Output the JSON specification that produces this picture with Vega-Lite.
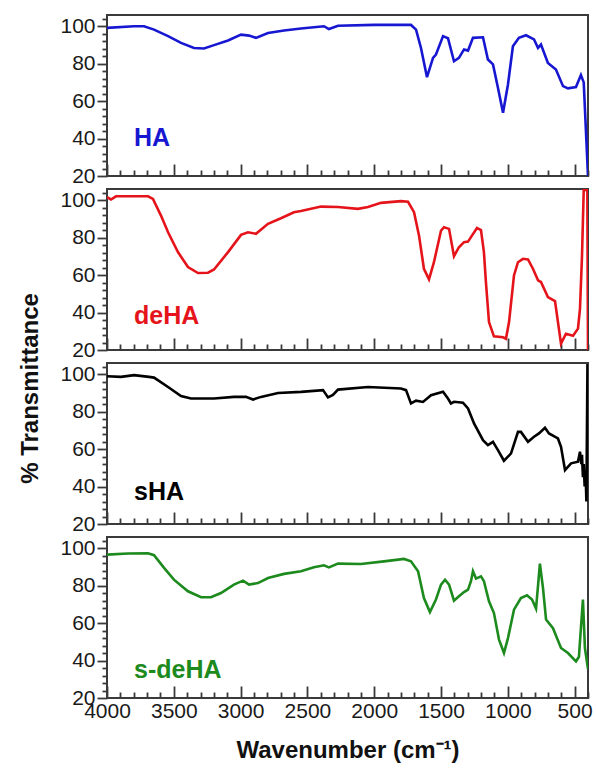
{
  "$schema": "https://vega.github.io/schema/vega-lite/v6.json",
  "padding": {"left": 18, "top": 14, "right": 7, "bottom": 4},
  "datasets": {
    "spectra": [
      {"s":"HA","w":4000,"t":99.1},{"s":"HA","w":3798,"t":100},{"s":"HA","w":3723,"t":100},{"s":"HA","w":3648,"t":98.2},{"s":"HA","w":3543,"t":94.7},{"s":"HA","w":3446,"t":91.1},{"s":"HA","w":3349,"t":88.4},{"s":"HA","w":3274,"t":88.1},{"s":"HA","w":3199,"t":89.9},{"s":"HA","w":3094,"t":92.4},{"s":"HA","w":2997,"t":95.5},{"s":"HA","w":2937,"t":95},{"s":"HA","w":2885,"t":93.8},{"s":"HA","w":2795,"t":96.4},{"s":"HA","w":2675,"t":97.7},{"s":"HA","w":2548,"t":98.8},{"s":"HA","w":2376,"t":100},{"s":"HA","w":2339,"t":98.5},{"s":"HA","w":2271,"t":100.3},{"s":"HA","w":2002,"t":100.7},{"s":"HA","w":1725,"t":100.7},{"s":"HA","w":1687,"t":98.2},{"s":"HA","w":1650,"t":88.4},{"s":"HA","w":1605,"t":72.8},{"s":"HA","w":1560,"t":83.1},{"s":"HA","w":1538,"t":84.9},{"s":"HA","w":1485,"t":94.7},{"s":"HA","w":1448,"t":93.6},{"s":"HA","w":1403,"t":81.3},{"s":"HA","w":1366,"t":83.1},{"s":"HA","w":1328,"t":87.6},{"s":"HA","w":1298,"t":87},{"s":"HA","w":1261,"t":93.8},{"s":"HA","w":1186,"t":94.1},{"s":"HA","w":1149,"t":82.2},{"s":"HA","w":1111,"t":79.6},{"s":"HA","w":1074,"t":67.1},{"s":"HA","w":1036,"t":53.8},{"s":"HA","w":999,"t":68.9},{"s":"HA","w":962,"t":89.3},{"s":"HA","w":917,"t":93.8},{"s":"HA","w":864,"t":95.2},{"s":"HA","w":804,"t":93},{"s":"HA","w":774,"t":88.4},{"s":"HA","w":752,"t":90.2},{"s":"HA","w":700,"t":80.4},{"s":"HA","w":640,"t":76.9},{"s":"HA","w":587,"t":68},{"s":"HA","w":550,"t":66.8},{"s":"HA","w":490,"t":67.5},{"s":"HA","w":453,"t":73.9},{"s":"HA","w":432,"t":70},{"s":"HA","w":400,"t":20},
      {"s":"deHA","w":4000,"t":101.6},{"s":"deHA","w":3970,"t":100.4},{"s":"deHA","w":3933,"t":102.1},{"s":"deHA","w":3693,"t":102.1},{"s":"deHA","w":3656,"t":100.7},{"s":"deHA","w":3596,"t":91.8},{"s":"deHA","w":3543,"t":82.9},{"s":"deHA","w":3469,"t":72.3},{"s":"deHA","w":3394,"t":64.3},{"s":"deHA","w":3319,"t":61.1},{"s":"deHA","w":3244,"t":61.3},{"s":"deHA","w":3199,"t":63},{"s":"deHA","w":3094,"t":72.3},{"s":"deHA","w":2997,"t":81.5},{"s":"deHA","w":2945,"t":82.9},{"s":"deHA","w":2885,"t":82.1},{"s":"deHA","w":2795,"t":87.4},{"s":"deHA","w":2698,"t":90.4},{"s":"deHA","w":2601,"t":93.6},{"s":"deHA","w":2548,"t":94.2},{"s":"deHA","w":2398,"t":96.6},{"s":"deHA","w":2271,"t":96.4},{"s":"deHA","w":2122,"t":95.4},{"s":"deHA","w":2047,"t":96.4},{"s":"deHA","w":1949,"t":98.6},{"s":"deHA","w":1800,"t":99.5},{"s":"deHA","w":1747,"t":99.2},{"s":"deHA","w":1702,"t":93.6},{"s":"deHA","w":1665,"t":81.2},{"s":"deHA","w":1628,"t":63.4},{"s":"deHA","w":1590,"t":57.7},{"s":"deHA","w":1553,"t":66.9},{"s":"deHA","w":1500,"t":83.8},{"s":"deHA","w":1478,"t":85.6},{"s":"deHA","w":1440,"t":84.7},{"s":"deHA","w":1403,"t":70.1},{"s":"deHA","w":1366,"t":74.9},{"s":"deHA","w":1328,"t":77.6},{"s":"deHA","w":1298,"t":77.9},{"s":"deHA","w":1276,"t":80.3},{"s":"deHA","w":1231,"t":85.2},{"s":"deHA","w":1201,"t":84},{"s":"deHA","w":1179,"t":72.3},{"s":"deHA","w":1164,"t":56.3},{"s":"deHA","w":1141,"t":34.9},{"s":"deHA","w":1104,"t":27.3},{"s":"deHA","w":1036,"t":26.8},{"s":"deHA","w":1014,"t":26},{"s":"deHA","w":991,"t":34.9},{"s":"deHA","w":954,"t":59.8},{"s":"deHA","w":924,"t":66.9},{"s":"deHA","w":887,"t":68.7},{"s":"deHA","w":849,"t":68.4},{"s":"deHA","w":812,"t":63.4},{"s":"deHA","w":774,"t":57.2},{"s":"deHA","w":752,"t":56.3},{"s":"deHA","w":700,"t":48.3},{"s":"deHA","w":647,"t":46.1},{"s":"deHA","w":602,"t":23.4},{"s":"deHA","w":565,"t":28.7},{"s":"deHA","w":512,"t":27.6},{"s":"deHA","w":475,"t":31.4},{"s":"deHA","w":460,"t":42},{"s":"deHA","w":445,"t":70},{"s":"deHA","w":432,"t":105.5},{"s":"deHA","w":405,"t":105.5},{"s":"deHA","w":400,"t":20},
      {"s":"sHA","w":4000,"t":98.9},{"s":"sHA","w":3895,"t":98.6},{"s":"sHA","w":3798,"t":99.5},{"s":"sHA","w":3686,"t":98.6},{"s":"sHA","w":3648,"t":98.2},{"s":"sHA","w":3543,"t":93.2},{"s":"sHA","w":3446,"t":88.3},{"s":"sHA","w":3371,"t":87},{"s":"sHA","w":3199,"t":87},{"s":"sHA","w":3050,"t":87.9},{"s":"sHA","w":2960,"t":87.9},{"s":"sHA","w":2907,"t":86.5},{"s":"sHA","w":2847,"t":87.9},{"s":"sHA","w":2720,"t":90},{"s":"sHA","w":2548,"t":90.6},{"s":"sHA","w":2383,"t":91.5},{"s":"sHA","w":2346,"t":87.6},{"s":"sHA","w":2309,"t":88.9},{"s":"sHA","w":2271,"t":91.8},{"s":"sHA","w":2047,"t":93.2},{"s":"sHA","w":1800,"t":92.4},{"s":"sHA","w":1762,"t":91.5},{"s":"sHA","w":1725,"t":84.4},{"s":"sHA","w":1687,"t":85.9},{"s":"sHA","w":1635,"t":85.2},{"s":"sHA","w":1575,"t":88.8},{"s":"sHA","w":1485,"t":90.6},{"s":"sHA","w":1448,"t":87},{"s":"sHA","w":1426,"t":84.4},{"s":"sHA","w":1403,"t":85.3},{"s":"sHA","w":1336,"t":84.8},{"s":"sHA","w":1298,"t":81.7},{"s":"sHA","w":1253,"t":73.7},{"s":"sHA","w":1186,"t":64.8},{"s":"sHA","w":1149,"t":62.1},{"s":"sHA","w":1111,"t":63.9},{"s":"sHA","w":1074,"t":59.5},{"s":"sHA","w":1029,"t":53.8},{"s":"sHA","w":976,"t":57.7},{"s":"sHA","w":924,"t":69.2},{"s":"sHA","w":902,"t":69.2},{"s":"sHA","w":849,"t":63.9},{"s":"sHA","w":804,"t":66.6},{"s":"sHA","w":767,"t":68.4},{"s":"sHA","w":722,"t":71.4},{"s":"sHA","w":692,"t":68.4},{"s":"sHA","w":625,"t":65.7},{"s":"sHA","w":602,"t":61.2},{"s":"sHA","w":572,"t":48.8},{"s":"sHA","w":527,"t":52.4},{"s":"sHA","w":475,"t":53.3},{"s":"sHA","w":460,"t":58.6},{"s":"sHA","w":450,"t":52},{"s":"sHA","w":445,"t":57},{"s":"sHA","w":438,"t":45},{"s":"sHA","w":432,"t":52},{"s":"sHA","w":425,"t":40},{"s":"sHA","w":418,"t":47},{"s":"sHA","w":412,"t":32},{"s":"sHA","w":404,"t":105.5},
      {"s":"s-deHA","w":4000,"t":96.6},{"s":"s-deHA","w":3843,"t":97.2},{"s":"s-deHA","w":3693,"t":97.3},{"s":"s-deHA","w":3648,"t":96.3},{"s":"s-deHA","w":3573,"t":89.5},{"s":"s-deHA","w":3499,"t":83.2},{"s":"s-deHA","w":3394,"t":77},{"s":"s-deHA","w":3296,"t":73.8},{"s":"s-deHA","w":3222,"t":73.8},{"s":"s-deHA","w":3147,"t":76.1},{"s":"s-deHA","w":3050,"t":80.6},{"s":"s-deHA","w":2982,"t":82.7},{"s":"s-deHA","w":2937,"t":80.6},{"s":"s-deHA","w":2870,"t":81.4},{"s":"s-deHA","w":2795,"t":84.1},{"s":"s-deHA","w":2675,"t":86.3},{"s":"s-deHA","w":2548,"t":87.7},{"s":"s-deHA","w":2451,"t":89.8},{"s":"s-deHA","w":2376,"t":90.9},{"s":"s-deHA","w":2339,"t":89.8},{"s":"s-deHA","w":2271,"t":91.8},{"s":"s-deHA","w":2099,"t":91.6},{"s":"s-deHA","w":1927,"t":93},{"s":"s-deHA","w":1777,"t":94.3},{"s":"s-deHA","w":1725,"t":93},{"s":"s-deHA","w":1672,"t":87.7},{"s":"s-deHA","w":1628,"t":73.4},{"s":"s-deHA","w":1583,"t":65.9},{"s":"s-deHA","w":1538,"t":72.6},{"s":"s-deHA","w":1500,"t":80.6},{"s":"s-deHA","w":1470,"t":83.2},{"s":"s-deHA","w":1440,"t":80.6},{"s":"s-deHA","w":1403,"t":72},{"s":"s-deHA","w":1366,"t":74.3},{"s":"s-deHA","w":1328,"t":76.6},{"s":"s-deHA","w":1298,"t":77.9},{"s":"s-deHA","w":1276,"t":82.4},{"s":"s-deHA","w":1261,"t":87.7},{"s":"s-deHA","w":1238,"t":83.8},{"s":"s-deHA","w":1201,"t":85},{"s":"s-deHA","w":1179,"t":82.4},{"s":"s-deHA","w":1141,"t":71.7},{"s":"s-deHA","w":1104,"t":65.4},{"s":"s-deHA","w":1066,"t":51.2},{"s":"s-deHA","w":1029,"t":44},{"s":"s-deHA","w":999,"t":52},{"s":"s-deHA","w":954,"t":67.2},{"s":"s-deHA","w":902,"t":73.4},{"s":"s-deHA","w":857,"t":74.9},{"s":"s-deHA","w":819,"t":72.6},{"s":"s-deHA","w":789,"t":67.8},{"s":"s-deHA","w":774,"t":80},{"s":"s-deHA","w":760,"t":91.8},{"s":"s-deHA","w":737,"t":78.8},{"s":"s-deHA","w":714,"t":61.9},{"s":"s-deHA","w":662,"t":57.3},{"s":"s-deHA","w":602,"t":46.7},{"s":"s-deHA","w":550,"t":44},{"s":"s-deHA","w":490,"t":39.5},{"s":"s-deHA","w":468,"t":42},{"s":"s-deHA","w":438,"t":72.6},{"s":"s-deHA","w":423,"t":46.7},{"s":"s-deHA","w":400,"t":35.4}
    ]
  },
  "title": {"text": "% Transmittance", "orient": "left", "anchor": "middle", "font": "Liberation Sans", "fontSize": 24, "fontWeight": "bold", "color": "#111", "offset": 16},
  "bounds": "flush",
  "spacing": 13,
  "vconcat": [
    {
      "width": 481, "height": 161,
      "resolve": {"axis": {"x": "independent", "y": "independent"}},
      "layer": [
        {"data": {"name": "spectra"}, "transform": [{"filter": "datum.s === 'HA'"}],
         "mark": {"type": "line", "color": "#1717d2", "strokeWidth": 2.6, "clip": true},
         "encoding": {
           "x": {"field": "w", "type": "quantitative", "scale": {"domain": [400, 4000], "reverse": true, "nice": false, "zero": false},
                 "axis": {"orient": "bottom", "values": [500,1000,1500,2000,2500,3000,3500,4000], "labels": false, "tickSize": -12}, "title": null},
           "y": {"field": "t", "type": "quantitative", "scale": {"domain": [20, 106], "nice": false, "zero": false},
                 "axis": {"orient": "left", "values": [20,40,60,80,100], "format": "d", "tickSize": 10, "labelPadding": 2}, "title": null}
         }},
        {"data": {"values": [{"label": "HA"}]},
         "mark": {"type": "text", "align": "left", "baseline": "alphabetic", "font": "Liberation Sans", "fontSize": 25, "fontWeight": "bold", "color": "#1717d2"},
         "encoding": {
           "x": {"datum": 3798, "type": "quantitative", "axis": {"orient": "bottom", "values": [400,600,700,800,900,1100,1200,1300,1400,1600,1700,1800,1900,2100,2200,2300,2400,2600,2700,2800,2900,3100,3200,3300,3400,3600,3700,3800,3900], "labels": false, "tickSize": -6}, "title": null},
           "y": {"datum": 36, "type": "quantitative", "axis": {"orient": "left", "values": [24,28,32,36,44,48,52,56,64,68,72,76,84,88,92,96,104], "labels": false, "tickSize": 5}, "title": null},
           "text": {"field": "label"}}}
      ]
    },
    {
      "width": 481, "height": 161,
      "resolve": {"axis": {"x": "independent", "y": "independent"}},
      "layer": [
        {"data": {"name": "spectra"}, "transform": [{"filter": "datum.s === 'deHA'"}],
         "mark": {"type": "line", "color": "#e5141b", "strokeWidth": 2.6, "clip": true},
         "encoding": {
           "x": {"field": "w", "type": "quantitative", "scale": {"domain": [400, 4000], "reverse": true, "nice": false, "zero": false},
                 "axis": {"orient": "bottom", "values": [500,1000,1500,2000,2500,3000,3500,4000], "labels": false, "tickSize": -12}, "title": null},
           "y": {"field": "t", "type": "quantitative", "scale": {"domain": [20, 106], "nice": false, "zero": false},
                 "axis": {"orient": "left", "values": [20,40,60,80,100], "format": "d", "tickSize": 10, "labelPadding": 2}, "title": null}
         }},
        {"data": {"values": [{"label": "deHA"}]},
         "mark": {"type": "text", "align": "left", "baseline": "alphabetic", "font": "Liberation Sans", "fontSize": 25, "fontWeight": "bold", "color": "#e5141b"},
         "encoding": {
           "x": {"datum": 3798, "type": "quantitative", "axis": {"orient": "bottom", "values": [400,600,700,800,900,1100,1200,1300,1400,1600,1700,1800,1900,2100,2200,2300,2400,2600,2700,2800,2900,3100,3200,3300,3400,3600,3700,3800,3900], "labels": false, "tickSize": -6}, "title": null},
           "y": {"datum": 33.7, "type": "quantitative", "axis": {"orient": "left", "values": [24,28,32,36,44,48,52,56,64,68,72,76,84,88,92,96,104], "labels": false, "tickSize": 5}, "title": null},
           "text": {"field": "label"}}}
      ]
    },
    {
      "width": 481, "height": 161,
      "resolve": {"axis": {"x": "independent", "y": "independent"}},
      "layer": [
        {"data": {"name": "spectra"}, "transform": [{"filter": "datum.s === 'sHA'"}],
         "mark": {"type": "line", "color": "#000000", "strokeWidth": 2.6, "clip": true},
         "encoding": {
           "x": {"field": "w", "type": "quantitative", "scale": {"domain": [400, 4000], "reverse": true, "nice": false, "zero": false},
                 "axis": {"orient": "bottom", "values": [500,1000,1500,2000,2500,3000,3500,4000], "labels": false, "tickSize": -12}, "title": null},
           "y": {"field": "t", "type": "quantitative", "scale": {"domain": [20, 106], "nice": false, "zero": false},
                 "axis": {"orient": "left", "values": [20,40,60,80,100], "format": "d", "tickSize": 10, "labelPadding": 2}, "title": null}
         }},
        {"data": {"values": [{"label": "sHA"}]},
         "mark": {"type": "text", "align": "left", "baseline": "alphabetic", "font": "Liberation Sans", "fontSize": 25, "fontWeight": "bold", "color": "#000000"},
         "encoding": {
           "x": {"datum": 3798, "type": "quantitative", "axis": {"orient": "bottom", "values": [400,600,700,800,900,1100,1200,1300,1400,1600,1700,1800,1900,2100,2200,2300,2400,2600,2700,2800,2900,3100,3200,3300,3400,3600,3700,3800,3900], "labels": false, "tickSize": -6}, "title": null},
           "y": {"datum": 32.8, "type": "quantitative", "axis": {"orient": "left", "values": [24,28,32,36,44,48,52,56,64,68,72,76,84,88,92,96,104], "labels": false, "tickSize": 5}, "title": null},
           "text": {"field": "label"}}}
      ]
    },
    {
      "width": 481, "height": 161,
      "resolve": {"axis": {"x": "independent", "y": "independent"}},
      "layer": [
        {"data": {"name": "spectra"}, "transform": [{"filter": "datum.s === 's-deHA'"}],
         "mark": {"type": "line", "color": "#1d8a1d", "strokeWidth": 2.6, "clip": true},
         "encoding": {
           "x": {"field": "w", "type": "quantitative", "scale": {"domain": [400, 4000], "reverse": true, "nice": false, "zero": false},
                 "axis": {"orient": "bottom", "values": [500,1000,1500,2000,2500,3000,3500,4000], "format": "d", "labelPadding": 14, "tickSize": -12, "titlePadding": 17}, "title": "Wavenumber (cm⁻¹)"},
           "y": {"field": "t", "type": "quantitative", "scale": {"domain": [20, 106], "nice": false, "zero": false},
                 "axis": {"orient": "left", "values": [20,40,60,80,100], "format": "d", "tickSize": 10, "labelPadding": 2}, "title": null}
         }},
        {"data": {"values": [{"label": "s-deHA"}]},
         "mark": {"type": "text", "align": "left", "baseline": "alphabetic", "font": "Liberation Sans", "fontSize": 25, "fontWeight": "bold", "color": "#1d8a1d"},
         "encoding": {
           "x": {"datum": 3798, "type": "quantitative", "axis": {"orient": "bottom", "values": [400,600,700,800,900,1100,1200,1300,1400,1600,1700,1800,1900,2100,2200,2300,2400,2600,2700,2800,2900,3100,3200,3300,3400,3600,3700,3800,3900], "labels": false, "tickSize": -6}, "title": null},
           "y": {"datum": 30.6, "type": "quantitative", "axis": {"orient": "left", "values": [24,28,32,36,44,48,52,56,64,68,72,76,84,88,92,96,104], "labels": false, "tickSize": 5}, "title": null},
           "text": {"field": "label"}}}
      ]
    }
  ],
  "config": {
    "view": {"stroke": "#3a3a3a", "strokeWidth": 2},
    "axis": {"domain": false, "grid": false, "labelFont": "Liberation Sans", "labelFontSize": 21, "labelColor": "#1a1a1a", "tickColor": "#3a3a3a", "tickWidth": 1.8, "labelOverlap": false, "labelFlush": false, "titleFont": "Liberation Sans", "titleFontSize": 24, "titleFontWeight": "bold", "titleColor": "#111"}
  }
}
